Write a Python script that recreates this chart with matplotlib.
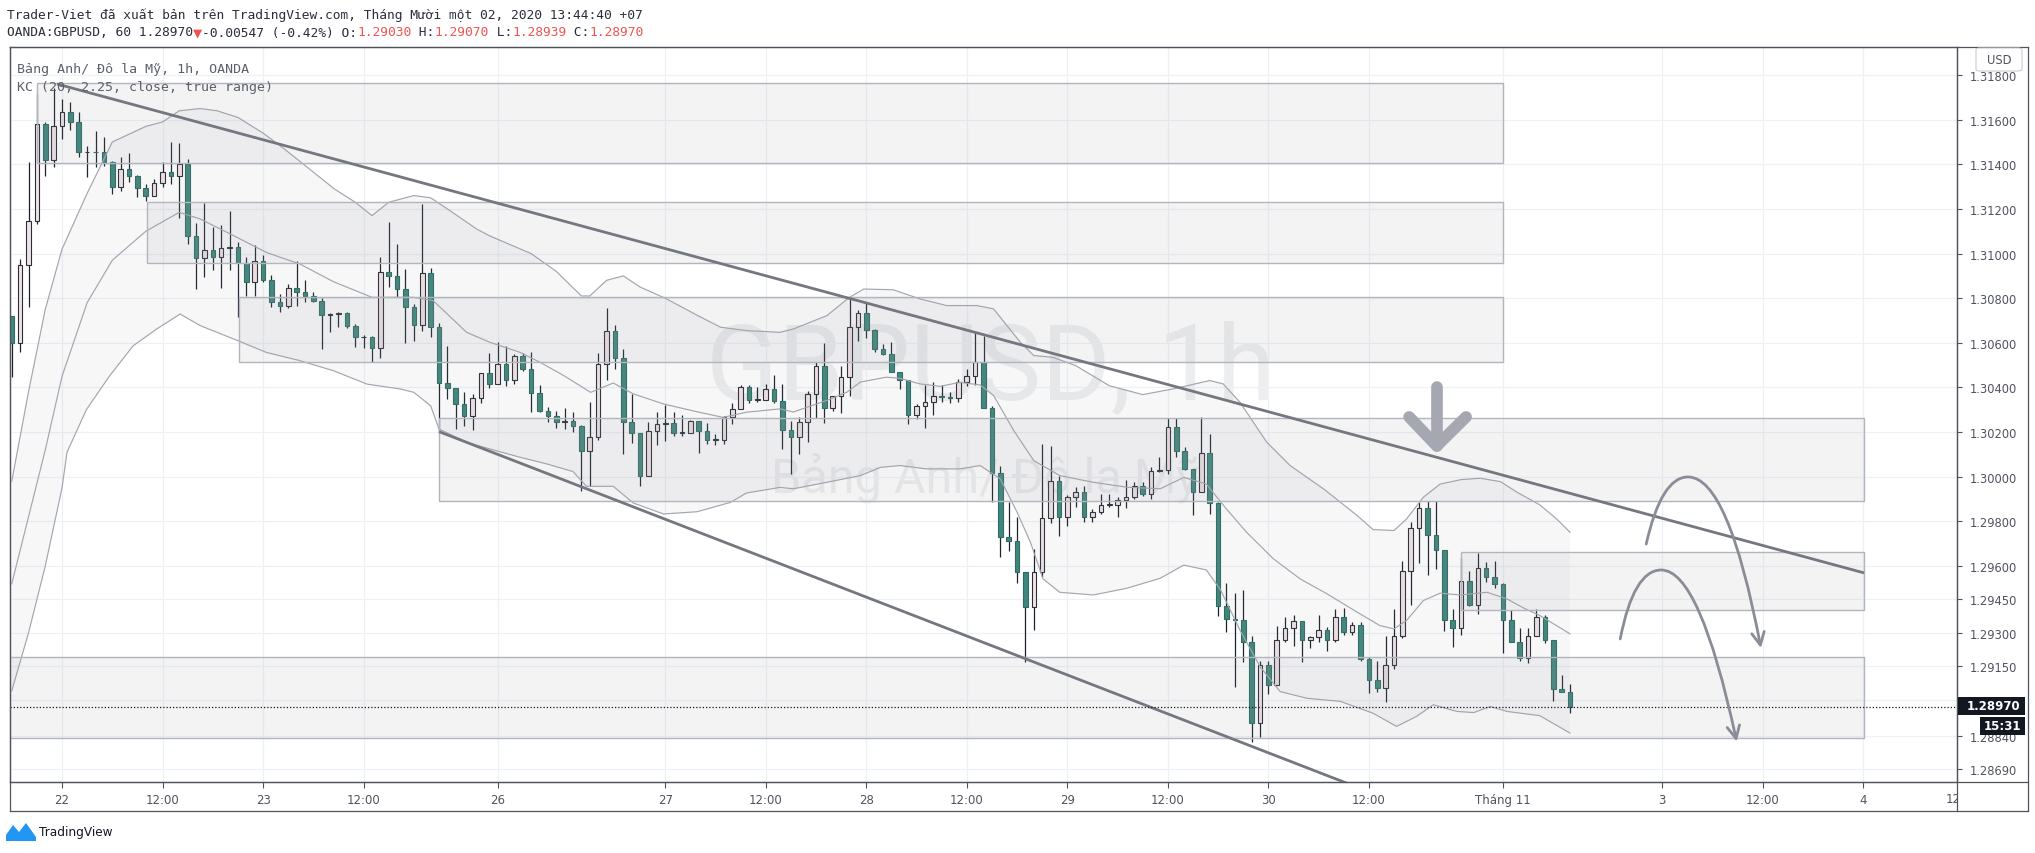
import numpy as np
import matplotlib
matplotlib.use("Agg")
import matplotlib.pyplot as plt
from matplotlib.patches import Rectangle, FancyArrowPatch, FancyBboxPatch, Polygon
from matplotlib.path import Path
from matplotlib.lines import Line2D

W, H = 2035, 854


def fx(px):
    return px / W


def fy(py):
    return 1 - py / H


# hourly bars, index 0 = 22 Oct 00:00 (UTC+7), weekend hours skipped
first_bar = -6
first_open = 1.30722

closes = [
    1.30599, 1.30950, 1.31147, 1.31581, 1.31421, 1.31570, 1.31633, 1.31591, 1.31454, 1.31457,
    1.31454, 1.31409, 1.31297, 1.31379, 1.31346, 1.31292, 1.31256, 1.31315, 1.31364, 1.31346,
    1.31401, 1.31080, 1.30980, 1.31016, 1.30983, 1.31026, 1.31029, 1.30956, 1.30874, 1.30965,
    1.30883, 1.30784, 1.30766, 1.30844, 1.30826, 1.30811, 1.30789, 1.30725, 1.30730, 1.30732,
    1.30677, 1.30624, 1.30624, 1.30575, 1.30919, 1.30898, 1.30841, 1.30759, 1.30681, 1.30915,
    1.30673, 1.30419, 1.30396, 1.30326, 1.30271, 1.30351, 1.30463, 1.30415, 1.30505, 1.30435,
    1.30542, 1.30482, 1.30375, 1.30296, 1.30271, 1.30244, 1.30250, 1.30229, 1.30113, 1.30176,
    1.30505, 1.30651, 1.30530, 1.30247, 1.30196, 1.30005, 1.30206, 1.30236, 1.30240, 1.30196,
    1.30196, 1.30251, 1.30206, 1.30166, 1.30166, 1.30266, 1.30303, 1.30400, 1.30345, 1.30345,
    1.30393, 1.30341, 1.30211, 1.30177, 1.30244, 1.30371, 1.30495, 1.30307, 1.30360, 1.30446,
    1.30670, 1.30733, 1.30658, 1.30573, 1.30549, 1.30471, 1.30434, 1.30277, 1.30315, 1.30336,
    1.30363, 1.30359, 1.30353, 1.30423, 1.30453, 1.30516, 1.30310, 1.30017, 1.29729, 1.29711,
    1.29572, 1.29418, 1.29572, 1.29813, 1.29980, 1.29818, 1.29908, 1.29930, 1.29818, 1.29840,
    1.29875, 1.29875, 1.29897, 1.29908, 1.29960, 1.29923, 1.30027, 1.30030, 1.30221, 1.30117,
    1.30035, 1.29933, 1.30106, 1.29882, 1.29419, 1.29362, 1.29359, 1.29261, 1.28895, 1.29158,
    1.29067, 1.29270, 1.29321, 1.29352, 1.29270, 1.29281, 1.29315, 1.29270, 1.29370, 1.29303,
    1.29336, 1.29184, 1.29091, 1.29052, 1.29158, 1.29285, 1.29579, 1.29771, 1.29859, 1.29739,
    1.29673, 1.29359, 1.29324, 1.29533, 1.29424, 1.29589, 1.29549, 1.29519, 1.29359, 1.29261,
    1.29186, 1.29288, 1.29370, 1.29270, 1.29049, 1.29034, 1.28970,
]
highs = [
    1.30722, 1.30976, 1.31409, 1.31715, 1.31588, 1.31740, 1.31693, 1.31678, 1.31633, 1.31483,
    1.31551, 1.31521, 1.31416, 1.31431, 1.31449, 1.31350, 1.31312, 1.31334, 1.31409, 1.31501,
    1.31495, 1.31424, 1.31137, 1.31227, 1.31117, 1.31128, 1.31189, 1.31050, 1.30983, 1.31038,
    1.30992, 1.30904, 1.30819, 1.30863, 1.30968, 1.30883, 1.30826, 1.30799, 1.30734, 1.30737,
    1.30740, 1.30684, 1.30635, 1.30632, 1.30983, 1.31140, 1.31043, 1.30931, 1.30774, 1.31220,
    1.30934, 1.30691, 1.30587, 1.30396, 1.30381, 1.30370, 1.30463, 1.30554, 1.30602, 1.30584,
    1.30550, 1.30554, 1.30557, 1.30410, 1.30311, 1.30296, 1.30306, 1.30292, 1.30232, 1.30336,
    1.30554, 1.30756, 1.30678, 1.30572, 1.30370, 1.30196, 1.30247, 1.30292, 1.30321, 1.30292,
    1.30277, 1.30256, 1.30251, 1.30241, 1.30191, 1.30270, 1.30330, 1.30410, 1.30410, 1.30400,
    1.30415, 1.30455, 1.30415, 1.30251, 1.30266, 1.30386, 1.30513, 1.30598, 1.30363, 1.30498,
    1.30801, 1.30748, 1.30777, 1.30661, 1.30596, 1.30605, 1.30471, 1.30434, 1.30326, 1.30411,
    1.30426, 1.30411, 1.30381, 1.30438, 1.30483, 1.30647, 1.30629, 1.30317, 1.30050, 1.29885,
    1.29818, 1.29572, 1.29677, 1.30146, 1.30139, 1.30002, 1.29918, 1.29952, 1.29957, 1.29855,
    1.29923, 1.29923, 1.29908, 1.29987, 1.29975, 1.29975, 1.30042, 1.30089, 1.30262, 1.30262,
    1.30132, 1.30035, 1.30266, 1.30191, 1.29888, 1.29524, 1.29479, 1.29494, 1.29288, 1.29176,
    1.29176, 1.29333, 1.29370, 1.29378, 1.29355, 1.29288, 1.29378, 1.29325, 1.29405, 1.29411,
    1.29348, 1.29348, 1.29191, 1.29176, 1.29288, 1.29405, 1.29624, 1.29796, 1.29886, 1.29889,
    1.29889, 1.29673, 1.29408, 1.29634, 1.29579, 1.29658, 1.29619, 1.29624, 1.29524, 1.29401,
    1.29324, 1.29324, 1.29408, 1.29378, 1.29270, 1.29112, 1.29070,
]
lows = [
    1.30445, 1.30557, 1.30759, 1.31132, 1.31349, 1.31386, 1.31513, 1.31555, 1.31431, 1.31342,
    1.31386, 1.31394, 1.31267, 1.31282, 1.31322, 1.31252, 1.31237, 1.31256, 1.31297, 1.31312,
    1.31158, 1.31043, 1.30841, 1.30893, 1.30928, 1.30844, 1.30928, 1.30714, 1.30808, 1.30808,
    1.30871, 1.30759, 1.30740, 1.30754, 1.30766, 1.30784, 1.30784, 1.30572, 1.30650, 1.30669,
    1.30665, 1.30580, 1.30575, 1.30515, 1.30532, 1.30849, 1.30804, 1.30601, 1.30609, 1.30654,
    1.30628, 1.30206, 1.30348, 1.30213, 1.30226, 1.30211, 1.30330, 1.30396, 1.30415, 1.30408,
    1.30416, 1.30475, 1.30292, 1.30292, 1.30244, 1.30217, 1.30214, 1.30202, 1.29937, 1.29960,
    1.30166, 1.30435, 1.30482, 1.30102, 1.30151, 1.29957, 1.30003, 1.30142, 1.30161, 1.30184,
    1.30184, 1.30196, 1.30106, 1.30147, 1.30142, 1.30147, 1.30236, 1.30303, 1.30330, 1.30336,
    1.30345, 1.30330, 1.30124, 1.30012, 1.30101, 1.30154, 1.30261, 1.30241, 1.30293, 1.30286,
    1.30363, 1.30610, 1.30620, 1.30561, 1.30546, 1.30471, 1.30393, 1.30236, 1.30259, 1.30217,
    1.30277, 1.30336, 1.30330, 1.30336, 1.30405, 1.30411, 1.30310, 1.29885, 1.29638, 1.29668,
    1.29523, 1.29169, 1.29311, 1.29551, 1.29792, 1.29736, 1.29778, 1.29863, 1.29798, 1.29798,
    1.29833, 1.29863, 1.29818, 1.29859, 1.29901, 1.29912, 1.29901, 1.30023, 1.30012, 1.30089,
    1.30032, 1.29829, 1.29933, 1.29832, 1.29374, 1.29305, 1.29057, 1.29169, 1.28813, 1.28833,
    1.29027, 1.29067, 1.29258, 1.29243, 1.29169, 1.29231, 1.29258, 1.29221, 1.29258, 1.29291,
    1.29291, 1.29176, 1.29031, 1.29034, 1.28992, 1.29139, 1.29276, 1.29424, 1.29613, 1.29560,
    1.29587, 1.29309, 1.29239, 1.29291, 1.29421, 1.29384, 1.29527, 1.29500, 1.29209, 1.29261,
    1.29172, 1.29166, 1.29285, 1.29255, 1.28997, 1.29034, 1.28939,
]

# Keltner channel (20, 2.25) at sample bars
kc_up_x = [-6, -4, -2, 0, 3, 6, 10, 12, 14, 16.5, 18.5, 21, 24, 26.5, 29.5, 32.5, 35, 37, 39, 42,
           44, 46, 49.5, 51, 56, 59, 62, 63, 65, 67, 69, 72, 76, 78.6, 81.7, 85.7, 87.3, 91.3, 94, 95.7,
           99.2, 102.4, 105.6, 109.2, 111.2, 112.8, 114.4, 116, 118.3, 121, 125, 129, 132.7, 137, 138.6,
           140.6, 143.8, 146.6, 150.6, 154.6, 156.5, 159, 160.5, 162.5, 164.5, 167, 169.3, 171.7, 173.7,
           176.4, 178.4, 180]
kc_up = [1.2998, 1.3038, 1.3075, 1.3102, 1.3127, 1.3150, 1.3157, 1.3159, 1.3164, 1.3165,
         1.3164, 1.3161, 1.3154, 1.3147, 1.3138, 1.3129, 1.3123, 1.3117, 1.3123, 1.3126,
         1.3125, 1.3120, 1.3111, 1.3108, 1.3100, 1.3092, 1.3081, 1.3081, 1.3088, 1.3090,
         1.3085, 1.3080, 1.3072, 1.3067, 1.30655, 1.30647, 1.30662, 1.30722, 1.30804, 1.30841,
         1.30838, 1.30797, 1.30767, 1.30767, 1.30752, 1.30677, 1.30602, 1.30543, 1.30535, 1.30498,
         1.30408, 1.30368, 1.30394, 1.30431, 1.30416, 1.30334, 1.30155, 1.3005, 1.29945, 1.29826,
         1.29763, 1.29759, 1.29811, 1.29908, 1.29967, 1.29987, 1.29993, 1.29978, 1.2993, 1.29874,
         1.29811, 1.29751]
kc_mid_x = [-6, -4, -2, 0, 3, 6, 10, 14, 16.5, 20.5, 24.4, 28.4, 32.4, 37, 42, 44.3, 48.3, 51.1,
            54.7, 57.1, 59.9, 63.1, 65.8, 68.2, 71.8, 75.8, 78.9, 81.7, 85.7, 87.3, 91.3, 93.7, 95.3,
            98.4, 100, 102.4, 104.8, 107.2, 109.6, 111.2, 113.6, 116, 119.1, 123.1, 127.1, 131.1,
            133.9, 136.6, 139, 141.4, 144.6, 147.8, 151, 154.6, 157.3, 159, 160.5, 162.5, 164.5,
            166.9, 170.1, 172.5, 174.5, 176.4, 180]
kc_mid = [1.2952, 1.2982, 1.3012, 1.3045, 1.3078, 1.3097, 1.3110, 1.31185, 1.31155, 1.3108,
          1.31005, 1.30953, 1.30874, 1.30804, 1.30804, 1.30789, 1.30647, 1.30602, 1.30557, 1.30512,
          1.30453, 1.30378, 1.3042, 1.30371, 1.30326, 1.30291, 1.30266, 1.30289, 1.30304, 1.3029,
          1.30342, 1.30379, 1.30424, 1.30446, 1.30441, 1.30416, 1.30405, 1.30423, 1.30411, 1.30364,
          1.30207, 1.30072, 1.30005, 1.29975, 1.29953, 1.29946, 1.29997, 1.29967, 1.29855, 1.29751,
          1.29632, 1.29542, 1.29475, 1.29393, 1.29333, 1.29318, 1.29356, 1.29445, 1.29478, 1.2947,
          1.29482, 1.29452, 1.29411, 1.29378, 1.29296]
kc_lo_x = [-6, -4, -2, 0, 0.6, 2.9, 5.7, 8.5, 11.3, 14.1, 16.5, 20.5, 24.4, 28.4, 32.4, 36.4, 40.4,
           42, 44, 45, 48.3, 51.1, 54.7, 57.9, 61, 62.6, 65.8, 68.2, 71.8, 75.8, 79.8, 81.7, 85.7,
           87.3, 91.3, 95.3, 97.7, 100, 103.2, 107.2, 109.6, 112, 114, 115.6, 117.1, 119.1, 123.1,
           127.1, 131.1, 133.9, 136.6, 138.3, 140.6, 143, 145.4, 148.6, 152.6, 156.5, 159.3, 161.7,
           163.7, 166.5, 168.5, 170.5, 172.5, 176.4, 180]
kc_lo = [1.2904, 1.2930, 1.2960, 1.2995, 1.3011, 1.3030, 1.30453, 1.30587, 1.30662, 1.30729,
         1.30677, 1.30617, 1.30557, 1.3052, 1.30475, 1.30415, 1.30393, 1.30378, 1.30318, 1.30214,
         1.30154, 1.30124, 1.30087, 1.30057, 1.30023, 1.29957, 1.29957, 1.29882, 1.29833, 1.29843,
         1.29885, 1.29927, 1.29952, 1.29946, 1.29975, 1.30005, 1.30042, 1.3005, 1.30035, 1.30035,
         1.3005, 1.2999, 1.29841, 1.29706, 1.29542, 1.29482, 1.2947, 1.295, 1.29545, 1.29604,
         1.29582, 1.29492, 1.29313, 1.29149, 1.29037, 1.29007, 1.28993, 1.2894, 1.28881, 1.28926,
         1.28978, 1.28948, 1.28943, 1.2897, 1.28948, 1.28929, 1.28851]

# drawn zones: (bar from, bar to, price low, price high)
zones = [
    (-3.0, 172.0, 1.31404, 1.31764),
    (10.1, 172.0, 1.30958, 1.31232),
    (21.1, 172.0, 1.30512, 1.30804),
    (45.0, 215.1, 1.29893, 1.30261),
    (167.0, 215.1, 1.29403, 1.29661),
    (-10.0, 215.1, 1.28827, 1.29190),
]
# channel lines: (bar, price) end points
trend_hi = [(-0.6, 1.31760), (215.1, 1.29569)]
trend_lo = [(45.0, 1.30202), (160.0, 1.28530)]
# projected paths (quadratic bezier: start, ctrl, peak, ctrl, end)
arc_hi = [(189.1, 1.29698), (190.9, 1.29999), (194.1, 1.29999), (198.9, 1.29999), (202.8, 1.29232)]
arc_lo = [(186.0, 1.29273), (187.6, 1.29582), (190.9, 1.29582), (195.5, 1.29582), (199.9, 1.28813)]
down_shaft = [(164.1, 1.30402), (164.1, 1.30138)]
down_head = [(160.8, 1.30268), (164.1, 1.30138), (167.6, 1.30268)]

last_price = 1.28970

time_pos = [0, 12, 24, 36, 52, 72, 84, 96, 108, 120, 132, 144, 156, 172, 191, 203, 215]
time_labels = ['22', '12:00', '23', '12:00', '26', '27', '12:00', '28', '12:00', '29',
               '12:00', '30', '12:00', 'Tháng 11', '3', '12:00', '4']
price_ticks = [1.318, 1.316, 1.314, 1.312, 1.310, 1.308, 1.306, 1.304, 1.302, 1.300, 1.298,
               1.296, 1.2945, 1.293, 1.2915, 1.290, 1.2884, 1.2869]
# 1.29000 sits under the last-price badge
price_labels = ['%.5f' % v for v in price_ticks]
price_labels[price_ticks.index(1.290)] = ''

MONO = ['DejaVu Sans Mono', 'DejaVu Sans']
AXC = '#50535e'
GREY = '#9598a1'

fig = plt.figure(figsize=(W / 100, H / 100), dpi=100)
fig.patch.set_facecolor('white')
ax = fig.add_axes([fx(10), fy(783), (1957 - 10) / W, (783 - 48) / H])
ax.set_xlim(-6.21, 226.2)
ax.set_ylim(1.286318, 1.319258)

ax.set_xticks(time_pos)
ax.set_xticklabels(time_labels)
ax.set_yticks(price_ticks)
ax.set_yticklabels(price_labels)
ax.yaxis.tick_right()
ax.tick_params(axis='x', length=4, width=0.8, color=AXC, pad=4, labelsize=8.5, labelcolor=AXC)
ax.tick_params(axis='y', length=3.5, width=0.8, color=AXC, pad=6, labelsize=8.3, labelcolor=AXC)
ax.grid(True, color='#eef0f5', lw=0.9)
ax.set_axisbelow(True)
for s in ax.spines.values():
    s.set_color(AXC)
    s.set_linewidth(0.9)

# watermark
ax.text(fx(990), fy(400), 'GBPUSD, 1h', transform=fig.transFigure, ha='center', va='baseline',
        fontsize=76, family='Roboto', color=GREY, alpha=0.16, zorder=0.5)
ax.text(fx(985), fy(493), 'Bảng Anh/ Đô la Mỹ', transform=fig.transFigure, ha='center',
        va='baseline', fontsize=35, family='Roboto', color=GREY, alpha=0.16, zorder=0.5)

# candles
x = np.arange(first_bar, first_bar + len(closes))
c = np.array(closes)
o = np.array([first_open] + closes[:-1])
hi = np.array(highs)
lo = np.array(lows)
up = c >= o
body_lo = np.minimum(o, c)
body_h = np.maximum(np.abs(c - o), 0.00003)
ax.vlines(x, lo, hi, color='#1e222d', lw=0.9, zorder=2)
ax.bar(x[up], body_h[up], bottom=body_lo[up], width=0.55, color='#f1e3e6',
       edgecolor='#2a2e39', lw=0.8, zorder=3)
ax.bar(x[~up], body_h[~up], bottom=body_lo[~up], width=0.55, color='#3f867c',
       edgecolor='#2e6b62', lw=0.8, zorder=3)

# keltner channel
ax.fill(np.r_[kc_up_x, kc_lo_x[::-1]], np.r_[kc_up, kc_lo[::-1]], color=GREY, alpha=0.07,
        lw=0, zorder=4)
for kx, ky in ((kc_up_x, kc_up), (kc_mid_x, kc_mid), (kc_lo_x, kc_lo)):
    ax.plot(kx, ky, color='#a3a6ae', lw=0.85, zorder=4)

# zones
for x0, x1, p0, p1 in zones:
    ax.add_patch(Rectangle((x0, p0), x1 - x0, p1 - p0, facecolor=(0.584, 0.596, 0.631, 0.11),
                           edgecolor='#b2b5be', lw=1.0, zorder=5))

# channel lines
for seg in (trend_hi, trend_lo):
    ax.plot([seg[0][0], seg[1][0]], [seg[0][1], seg[1][1]], color='#74777f', lw=2.0,
            solid_capstyle='butt', zorder=6)

ax.axhline(last_price, color='#131722', ls=(0, (1, 1.6)), lw=0.9, zorder=7)

# big down arrow
ax.plot(*zip(*down_shaft), color='#a5a8b0', lw=8.4, solid_capstyle='round', zorder=8)
ax.plot(*zip(*down_head), color='#a5a8b0', lw=8.4, solid_capstyle='round',
        solid_joinstyle='round', zorder=8)

# projected paths
codes = [Path.MOVETO, Path.CURVE3, Path.CURVE3, Path.CURVE3, Path.CURVE3]
for arc in (arc_hi, arc_lo):
    ax.add_patch(FancyArrowPatch(path=Path(arc, codes),
                                 arrowstyle='->,head_length=0.7,head_width=0.35',
                                 mutation_scale=13, color='#8a8d97', lw=2.0, zorder=9))

# legend in pane
ax.text(fx(17), fy(69), 'Bảng Anh/ Đô la Mỹ, 1h, OANDA', transform=fig.transFigure,
        va='center', fontsize=9.5, family=MONO, color='#5d606b', zorder=10)
ax.text(fx(17), fy(88), 'KC (20, 2.25, close, true range)', transform=fig.transFigure,
        va='center', fontsize=9.5, family=MONO, color='#5d606b', zorder=10)

# header
fig.text(fx(7), fy(15), 'Trader-Viet đã xuất bản trên TradingView.com, Tháng Mười một 02, 2020 13:44:40 +07',
         va='center', fontsize=9.3, family=MONO, color='#2a2e39')
RED = '#ef5350'
segs = [('▼', RED), ('-0.00547 (-0.42%) O:', '#2a2e39'), ('1.29030', RED), (' H:', '#2a2e39'),
        ('1.29070', RED), (' L:', '#2a2e39'), ('1.28939', RED), (' C:', '#2a2e39'), ('1.28970', RED)]
prev = fig.text(fx(7), fy(33), 'OANDA:GBPUSD, 60 1.28970', va='center', fontsize=9.3,
                family=MONO, color='#2a2e39')
for s, col in segs:
    size = 11 if s == '▼' else 9.3
    prev = ax.annotate(s, xy=(1, 0.5), xycoords=prev, ha='left', va='center', fontsize=size,
                       family=MONO, color=col, annotation_clip=False)

# last time label partly under the price scale
fig.text(fx(1953), fy(800), '12', ha='center', va='center', fontsize=8.5, color=AXC, zorder=2)
fig.add_artist(Rectangle((fx(1957.5), fy(811.5)), 70 / W, 28 / H, transform=fig.transFigure,
                         facecolor='white', edgecolor='none', zorder=3))

# frame of scales
frame = [([10, 2028], [48, 48]), ([10, 2028], [812, 812]), ([10, 10], [48, 812]),
         ([2028, 2028], [48, 812]), ([1957, 1957], [48, 812]), ([10, 2028], [783, 783])]
for xs, ys in frame:
    fig.add_artist(Line2D([fx(v) for v in xs], [fy(v) for v in ys], transform=fig.transFigure,
                          color=AXC, lw=0.9, zorder=4))

# USD badge
fig.add_artist(FancyBboxPatch((fx(1976), fy(72)), 46 / W, 23 / H, boxstyle='round,pad=0,rounding_size=0.002',
                              transform=fig.transFigure, facecolor='white', edgecolor='#c9ccd4',
                              lw=0.8, zorder=5))
fig.text(fx(1999), fy(60.5), 'USD', ha='center', va='center', fontsize=8.3, color=AXC, zorder=6)

# last price + countdown badges
fig.add_artist(Rectangle((fx(1958), fy(716)), 67 / W, 18 / H, transform=fig.transFigure,
                         facecolor='#131722', edgecolor='none', zorder=5))
fig.text(fx(1993), fy(707), '1.28970', ha='center', va='center', fontsize=8.5, color='white',
         fontweight='bold', zorder=6)
fig.add_artist(Rectangle((fx(1980), fy(736)), 45 / W, 18 / H, transform=fig.transFigure,
                         facecolor='#131722', edgecolor='none', zorder=5))
fig.text(fx(2002), fy(727), '15:31', ha='center', va='center', fontsize=8.5, color='white',
         fontweight='bold', zorder=6)

# TradingView logo
logo = [(6, 842), (6, 836), (13, 826), (19, 833), (26, 824), (36, 838), (36, 842)]
fig.add_artist(Polygon([(fx(a), fy(b)) for a, b in logo], closed=True, transform=fig.transFigure,
                       facecolor='#2196f3', edgecolor='none', zorder=5))
fig.text(fx(39), fy(833), 'TradingView', va='center', fontsize=8.7, color='#131722')

fig.savefig('out.png', dpi=100, facecolor='white')
